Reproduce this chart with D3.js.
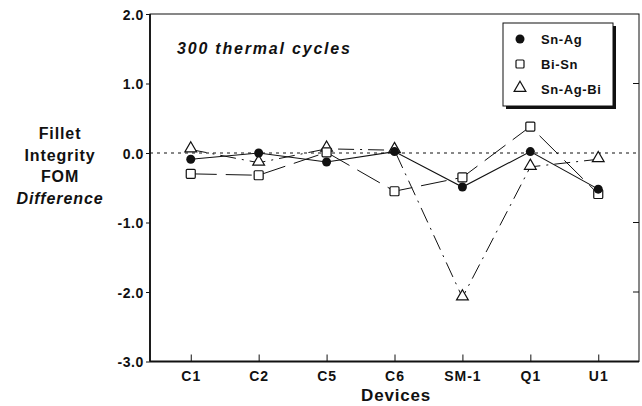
<!DOCTYPE html>
<html><head><meta charset="utf-8">
<script src="https://cdn.jsdelivr.net/npm/d3@7"></script>
<style>body{margin:0;background:#fff}svg{display:block}text{font-family:"Liberation Sans",Arial,sans-serif;fill:#111;font-weight:bold}</style>
</head><body><svg id="c" width="642" height="406"></svg>
<script>
const categories = ["C1","C2","C5","C6","SM-1","Q1","U1"];
const snAg   = [-0.09, 0.00, -0.13, 0.02, -0.49, 0.02, -0.52];
const biSn   = [-0.30, -0.32, 0.01, -0.55, -0.35, 0.38, -0.59];
const snAgBi = [0.05, -0.14, 0.06, 0.04, -2.08, -0.20, -0.09];
const yTicks = [2, 1, 0, -1, -2, -3];
const seriesNames = ["Sn-Ag","Bi-Sn","Sn-Ag-Bi"];

const svg = d3.select("#c");
const L = 150, R = 639, T = 14, B = 361.5;
const x = d3.scalePoint().domain(categories).range([L, R]).padding(0.6);
const y = d3.scaleLinear().domain([-3, 2]).range([B, T]);

// frame
svg.append("rect").attr("x", L).attr("y", T).attr("width", R - L).attr("height", B - T)
  .attr("fill", "none").attr("stroke", "#111").attr("stroke-width", 1);
svg.append("line").attr("x1", L).attr("x2", L).attr("y1", T).attr("y2", B).attr("stroke", "#111").attr("stroke-width", 1.8);
svg.append("line").attr("x1", L).attr("x2", R).attr("y1", B).attr("y2", B).attr("stroke", "#111").attr("stroke-width", 1.8);

// left axis
const ya = d3.axisLeft(y).tickValues(yTicks).tickFormat(d => d.toFixed(1)).tickSize(4).tickPadding(2);
const gy = svg.append("g").attr("transform", `translate(${L},0)`).call(ya);
gy.select(".domain").remove();
gy.selectAll("text").attr("font-size", 14).attr("letter-spacing", 0.6).attr("dy", "0.36em")
  .style("font-family", "'Liberation Sans',Arial,sans-serif").style("font-weight", "bold");
gy.selectAll("line").attr("stroke", "#111");
// right inner ticks
svg.append("g").selectAll("line").data([1, -1, -2]).join("line")
  .attr("x1", R - 6).attr("x2", R).attr("y1", d => y(d)).attr("y2", d => y(d)).attr("stroke", "#111");

// bottom axis
const xa = d3.axisBottom(x).tickSize(-7).tickPadding(10);
const gx = svg.append("g").attr("transform", `translate(0,${B})`).call(xa);
gx.select(".domain").remove();
gx.selectAll("text").attr("font-size", 14).attr("letter-spacing", 1)
  .style("font-family", "'Liberation Sans',Arial,sans-serif").style("font-weight", "bold");
gx.selectAll("line").attr("stroke", "#111");

// zero dotted line
svg.append("line").attr("x1", L).attr("x2", R).attr("y1", y(0)).attr("y2", y(0))
  .attr("stroke", "#111").attr("stroke-dasharray", "3,4").attr("stroke-width", 1.1);

const line = d3.line().x((d, i) => x(categories[i])).y(d => y(d));
svg.append("path").datum(biSn).attr("d", line).attr("fill", "none").attr("stroke", "#111").attr("stroke-width", 1).attr("stroke-dasharray", "26,9");
svg.append("path").datum(snAgBi).attr("d", line).attr("fill", "none").attr("stroke", "#111").attr("stroke-width", 1).attr("stroke-dasharray", "16,6,2,6");
svg.append("path").datum(snAg).attr("d", line).attr("fill", "none").attr("stroke", "#111").attr("stroke-width", 1.1);

const tri = d3.symbol().type(d3.symbolTriangle).size(60);
svg.append("g").selectAll("path").data(snAgBi).join("path")
  .attr("d", tri).attr("transform", (d, i) => `translate(${x(categories[i])},${y(d) - 1})`)
  .attr("fill", "#fff").attr("stroke", "#111").attr("stroke-width", 1.2);
svg.append("g").selectAll("rect").data(biSn).join("rect")
  .attr("x", (d, i) => x(categories[i]) - 4.5).attr("y", d => y(d) - 4.5).attr("width", 9).attr("height", 9).attr("rx", 1)
  .attr("fill", "#fff").attr("stroke", "#111").attr("stroke-width", 1.2);
svg.append("g").selectAll("circle").data(snAg).join("circle")
  .attr("cx", (d, i) => x(categories[i])).attr("cy", d => y(d)).attr("r", 4.5).attr("fill", "#111");

// title
svg.append("text").attr("x", 177).attr("y", 54).attr("font-size", 16).attr("letter-spacing", 1.8)
  .attr("font-style", "italic").text("300 thermal cycles");

// legend
const lg = svg.append("g");
lg.append("rect").attr("x", 506).attr("y", 26).attr("width", 110).attr("height", 83).attr("fill", "#111");
lg.append("rect").attr("x", 503).attr("y", 23).attr("width", 110).attr("height", 83).attr("fill", "#fff").attr("stroke", "#111");
const ly = [39, 64, 89];
lg.append("circle").attr("cx", 520).attr("cy", ly[0]).attr("r", 4.5).attr("fill", "#111");
lg.append("rect").attr("x", 516).attr("y", ly[1] - 4).attr("width", 8).attr("height", 8).attr("rx", 1).attr("fill", "#fff").attr("stroke", "#111").attr("stroke-width", 1.2);
lg.append("path").attr("d", tri).attr("transform", `translate(520,${ly[2] - 1})`).attr("fill", "#fff").attr("stroke", "#111").attr("stroke-width", 1.2);
lg.selectAll("text.l").data(seriesNames).join("text").attr("x", 541).attr("y", (d, i) => ly[i] + 4.5)
  .attr("font-size", 13).attr("letter-spacing", 0.6).text(d => d);

// y label
const yl = ["Fillet", "Integrity", "FOM", "Difference"];
svg.append("g").selectAll("text").data(yl).join("text").attr("x", 60).attr("y", (d, i) => [139, 160.5, 182, 203.5][i])
  .attr("text-anchor", "middle").attr("font-size", 16).attr("letter-spacing", 0.9)
  .attr("font-style", (d, i) => i === 3 ? "italic" : "normal").text(d => d);

// x label
svg.append("text").attr("x", 396).attr("y", 401).attr("text-anchor", "middle").attr("font-size", 17).attr("letter-spacing", 0.8).text("Devices");
</script></body></html>
